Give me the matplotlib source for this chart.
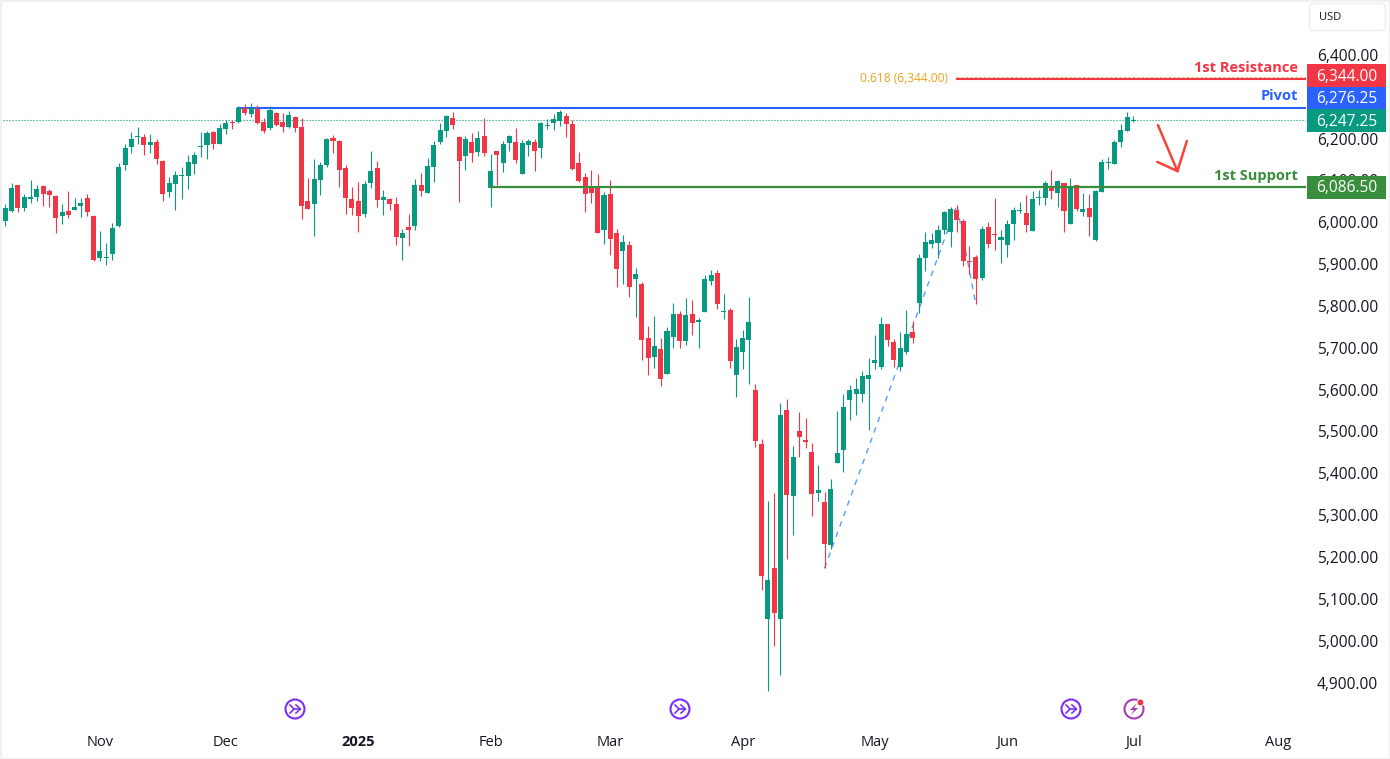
import matplotlib
matplotlib.use('Agg')
import matplotlib.pyplot as plt
from matplotlib.patches import Circle, Rectangle, FancyBboxPatch, Polygon
from matplotlib.transforms import ScaledTranslation

plt.rcParams['font.family'] = ['Open Sans', 'DejaVu Sans']

# daily candles
directions = ("GGRGGGRRRG" "RGGRRGGGGG" "GGRGRRGGGG" "GGGRGGRGRG" "RRGRRGRRRG" "GGRRRRRGGR"
              "GRRGRGRGGG" "GRRGRGRGRG" "GRGGRGGGGR" "RRRRRGRRGR" "GRRGRGGRGR" "GGGRGRGGGR"
              "RGRGRGRRRG" "RGGGGGGGGG" "RRGGRGGGGG" "GRRRRGRRGG" "GGRGGGRGRG" "RGRGGGGGGG")

highs = [6046,6096,6092,6070,6104,6092,6092,6082,6068,6046,
         6077,6061,6061,6070,6020,5982,5953,6001,6144,6190,
         6218,6230,6214,6214,6202,6151,6111,6125,6135,6163,
         6170,6218,6221,6221,6237,6247,6247,6280,6285,6288,
         6283,6252,6280,6266,6264,6269,6257,6252,6108,6154,
         6147,6204,6211,6199,6139,6087,6099,6101,6173,6149,
         6080,6061,6063,5986,6022,6106,6120,6156,6197,6240,
         6259,6266,6209,6209,6216,6221,6252,6166,6173,6197,
         6211,6228,6199,6202,6202,6242,6249,6261,6271,6264,
         6247,6170,6120,6128,6118,6075,6104,5987,5972,5958,
         5893,5860,5755,5779,5726,5752,5810,5791,5822,5817,
         5774,5877,5889,5889,5831,5798,5724,5745,5824,5616,
         5485,5336,5356,5571,5580,5468,5549,5535,5475,5422,
         5358,5389,5552,5592,5614,5630,5647,5678,5733,5776,
         5759,5724,5740,5793,5767,5927,5979,5977,5996,6030,
         6039,6044,6010,5946,5924,5994,6003,6061,5984,6008,
         6039,6051,6068,6077,6080,6101,6127,6104,6096,6108,
         6092,6073,6070,6080,6154,6159,6199,6237,6266,6257]

lows = [5994,6027,6027,6029,6049,6053,6041,6039,5977,5998,
        6013,6032,6015,6018,5910,5910,5900,5912,5991,6128,
        6168,6190,6163,6168,6142,6053,6063,6032,6058,6082,
        6118,6159,6154,6178,6190,6214,6225,6240,6259,6254,
        6237,6216,6223,6233,6218,6228,6218,6010,6034,5970,
        6068,6135,6168,6087,6022,6020,5979,6015,6084,6039,
        6020,6032,5948,5912,5946,5984,6065,6072,6099,6190,
        6206,6225,6051,6128,6147,6161,6161,6039,6092,6123,
        6173,6144,6118,6161,6125,6156,6225,6223,6233,6206,
        6128,6099,6027,6049,5977,5951,5924,5848,5855,5824,
        5776,5674,5638,5654,5611,5640,5702,5702,5709,5733,
        5702,5788,5853,5795,5772,5654,5585,5652,5616,5465,
        5124,4882,4990,4921,5198,5255,5442,5463,5301,5336,
        5176,5222,5427,5406,5530,5542,5573,5506,5652,5652,
        5707,5657,5647,5688,5714,5786,5886,5941,5917,5975,
        5943,5979,5898,5879,5807,5865,5941,5936,5905,5920,
        5960,6025,5979,5982,6044,6044,6058,6039,5979,5998,
        6030,6018,5970,5958,6075,6130,6142,6182,6221,6242]

body_tops = [6037,6084,6092,6063,6063,6082,6089,6077,6065,6027,
             6029,6039,6049,6061,6018,5934,5920,5989,6135,6180,
             6202,6209,6206,6194,6194,6149,6096,6115,6115,6147,
             6163,6185,6216,6218,6228,6240,6242,6276,6276,6276,
             6273,6242,6271,6264,6242,6259,6254,6230,6053,6106,
             6139,6202,6204,6197,6132,6058,6053,6094,6125,6132,
             6063,6058,6046,5977,5991,6092,6092,6137,6187,6223,
             6257,6252,6206,6202,6194,6204,6209,6125,6173,6190,
             6209,6194,6192,6197,6194,6240,6235,6249,6266,6257,
             6237,6144,6111,6087,6084,6068,6070,5977,5956,5948,
             5879,5855,5726,5707,5700,5743,5783,5783,5781,5783,
             5769,5867,5877,5881,5791,5793,5705,5726,5764,5602,
             5473,5148,5176,5542,5554,5442,5504,5482,5454,5363,
             5334,5365,5451,5561,5602,5604,5635,5638,5673,5759,
             5759,5716,5702,5736,5740,5917,5955,5960,5984,6027,
             6034,6032,6006,5910,5920,5986,5991,5975,5967,5998,
             6032,6032,6025,6058,6063,6096,6089,6101,6096,6089,
             6092,6034,6037,6077,6147,6147,6194,6223,6254,6247]

body_bottoms = [6006,6029,6037,6037,6058,6063,6070,6068,6013,6018,
                6020,6032,6041,6027,5912,5917,5917,5927,5994,6139,
                6182,6206,6187,6187,6154,6070,6075,6094,6113,6113,
                6142,6182,6187,6190,6190,6225,6241,6242,6264,6261,
                6240,6221,6228,6235,6230,6230,6228,6041,6034,6046,
                6104,6139,6197,6128,6061,6037,6018,6022,6096,6056,
                6056,6046,5967,5965,5984,5994,6077,6072,6135,6194,
                6221,6235,6149,6161,6168,6170,6168,6084,6163,6144,
                6192,6151,6118,6187,6173,6180,6233,6240,6245,6237,
                6130,6101,6070,6072,5977,5984,5963,5891,5934,5848,
                5867,5721,5678,5681,5628,5640,5729,5719,5719,5762,
                5764,5788,5862,5807,5788,5671,5638,5693,5721,5480,
                5157,5054,5069,5054,5351,5348,5489,5477,5353,5356,
                5234,5231,5427,5458,5578,5592,5592,5628,5666,5657,
                5721,5673,5657,5693,5726,5810,5917,5951,5953,5984,
                5979,6008,5910,5908,5867,5869,5951,5972,5960,5948,
                5998,6030,5996,5982,6061,6061,6077,6073,6030,5998,
                6034,6027,6015,5960,6075,6144,6142,6194,6221,6245]

month_bars = [15, 35, 56, 77, 96, 117, 138, 159, 179, 202]
month_labels = ['Nov', 'Dec', '2025', 'Feb', 'Mar', 'Apr', 'May', 'Jun', 'Jul', 'Aug']
price_ticks = list(range(4900, 6500, 100))

resistance = 6344.00
pivot = 6276.25
last_price = 6247.25
support = 6086.50

# trend drawing: low, top, pullback
swing_bars = [130, 151, 154]
swing_prices = [5176, 6044, 5807]

# hand drawn arrow on the chart
arrow_bars = [182.9, 186.0]
arrow_prices = [6235, 6125]
head_bars = [182.8, 186.0, 187.5]
head_prices = [6147, 6125, 6197]

GREEN = '#089981'
RED = '#f23645'
BLUE = '#2962ff'
SUPPORT_GREEN = '#388e3c'
ORANGE = '#e8a317'
TEXT = '#131722'
W, H = 1390, 759

fig = plt.figure(figsize=(W / 100, H / 100), dpi=100, facecolor='white')
ax = fig.add_axes([0, 1 - 725 / H, 1306 / W, 725 / H])

# candles
colors = [GREEN if d == 'G' else RED for d in directions]
bars = list(range(len(highs)))
ax.axhline(last_price, color=GREEN, lw=0.8, ls=(0, (1, 1.7)), zorder=1)
ax.vlines(bars, lows, highs, colors=colors, lw=0.8, zorder=3)
heights = [t - b for t, b in zip(body_tops, body_bottoms)]
ax.bar(bars, heights, bottom=body_bottoms, width=0.8, color=colors, lw=0, zorder=3)

# levels
ax.plot([151, 206.5], [resistance + 2.5, resistance + 2.5], color=ORANGE, lw=1.3, ls=(0, (1, 1.5)), zorder=4)
ax.plot([151, 206.5], [resistance, resistance], color=RED, lw=1.5, zorder=4)
ax.plot([37, 206.5], [pivot, pivot], color=BLUE, lw=1.5, zorder=2)
ax.plot([77, 206.5], [support, support], color=SUPPORT_GREEN, lw=1.6, zorder=4)
ax.plot(swing_bars, swing_prices, color='#5b9cf6', lw=1, ls=(0, (4, 4)), zorder=2)
ax.plot(arrow_bars, arrow_prices, color='#f7443a', lw=1.8, solid_capstyle='round', zorder=5)
ax.plot(head_bars, head_prices, color='#f7443a', lw=1.8, solid_capstyle='round', solid_joinstyle='miter', zorder=5)

ax.set_xlim(-0.846, 206.4)
ax.set_ylim(4801.5, 6533.8)
ax.set_xticks(month_bars)
ax.set_xticklabels(month_labels, fontsize=10.5, color=TEXT)
ax.get_xticklabels()[2].set_fontweight('bold')
ax.set_yticks(price_ticks)
ax.set_yticklabels([f'{p:,.2f}' for p in price_ticks], fontsize=11.2, color=TEXT)
ax.yaxis.tick_right()
ax.tick_params(axis='both', length=0)
ax.tick_params(axis='x', pad=7.5)
ax.tick_params(axis='y', pad=8)
# nudge the price labels up a pixel
nudge = ScaledTranslation(0, 1.2 / 100, fig.dpi_scale_trans)
for lab in ax.get_yticklabels():
    lab.set_transform(lab.get_transform() + nudge)
for s in ax.spines.values():
    s.set_visible(False)

# overlay in pixels for the price badges and icons
ov = fig.add_axes([0, 0, 1, 1], facecolor='none')
ov.set_xlim(0, W)
ov.set_ylim(H, 0)
ov.axis('off')


def badge(y0, y1, color, label):
    ov.add_patch(Rectangle((1307, y0), 79, y1 - y0, fc=color, ec='none', zorder=6))
    ov.text(1346.5, (y0 + y1) / 2 + 1, label, color='white', fontsize=11.2, ha='center', va='center', zorder=7)


badge(64, 87.3, RED, f'{resistance:,.2f}')
badge(109.3, 132, GREEN, f'{last_price:,.2f}')
badge(87.3, 109.3, BLUE, f'{pivot:,.2f}')
badge(176, 198.7, SUPPORT_GREEN, f'{support:,.2f}')

ov.text(1298, 68.5, '1st Resistance', color=RED, fontsize=10.5, fontweight='bold', ha='right', va='center')
ov.text(1298, 96.5, 'Pivot', color=BLUE, fontsize=10.5, fontweight='bold', ha='right', va='center')
ov.text(1298, 176, '1st Support', color=SUPPORT_GREEN, fontsize=10.5, fontweight='bold', ha='right', va='center')
ov.text(860, 79, '0.618 (6,344.00)', color=ORANGE, fontsize=8.6, ha='left', va='center')

ov.add_patch(FancyBboxPatch((1312, 6), 71, 22, boxstyle='round,pad=2.5,rounding_size=4', fc='white', ec='#eceef3', lw=1))
ov.text(1319, 17.5, 'USD', color=TEXT, fontsize=8, ha='left', va='center')


def event_icon(x, y):
    c = '#7a2ff5'
    ov.add_patch(Circle((x, y), 9.5, fc='white', ec=c, lw=1.5, zorder=6))
    ov.plot([x - 5, x - 1, x - 5], [y - 4, y, y + 4], color=c, lw=1.2, zorder=7)
    ov.plot([x - 1, x + 5], [y, y], color=c, lw=1.2, zorder=7)
    ov.plot([x + 1, x + 5.5, x + 1], [y - 4, y, y + 4], color=c, lw=1.2, zorder=7)


for xp in (295, 680, 1071):
    event_icon(xp, 709)

ov.add_patch(Circle((1134, 709), 9.5, fc='white', ec='#a63bb5', lw=1.5, zorder=6))
ov.add_patch(Polygon([(1137, 703), (1130, 710), (1134, 710), (1131, 715), (1138, 708), (1134, 708)],
                     fc='#a63bb5', ec='none', zorder=7))
ov.add_patch(Circle((1140.5, 702.5), 3.5, fc=RED, ec='white', lw=0.8, zorder=8))

# thin grey frame of the screenshot
ov.add_patch(Rectangle((0.5, 0.5), W - 1, H - 1, fc='none', ec='#eef0f4', lw=1.5, zorder=9))

fig.savefig('out.png', dpi=100)
